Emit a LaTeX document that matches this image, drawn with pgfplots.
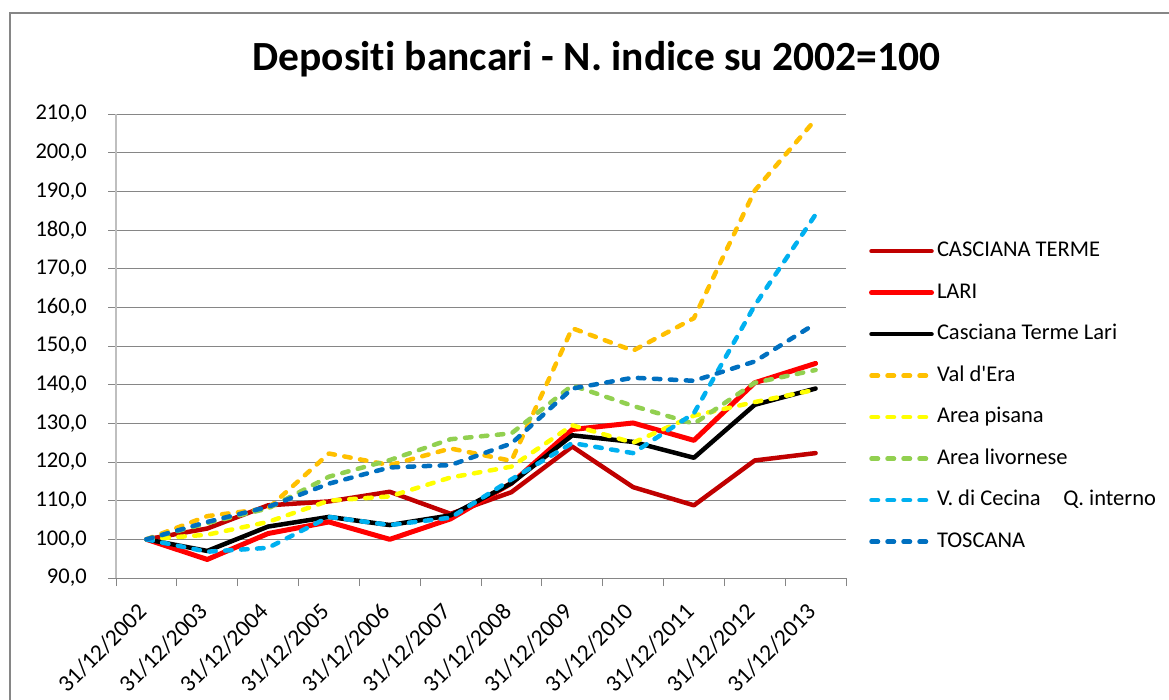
\documentclass[border=0pt]{standalone}
\usepackage{fontspec}
\setmainfont{Carlito}[Ligatures={TeX,NoCommon}]
\usepackage{pgfplots}
\pgfplotsset{compat=1.18}
\definecolor{ctred}{HTML}{C00000}
\definecolor{lared}{HTML}{FF0000}
\definecolor{vorange}{HTML}{FFC000}
\definecolor{pyellow}{HTML}{FFFF00}
\definecolor{lgreen}{HTML}{92D050}
\definecolor{cblue}{HTML}{00B0F0}
\definecolor{tblue}{HTML}{0070C0}
\definecolor{gridgray}{HTML}{868686}
\definecolor{axgray}{HTML}{BFBFBF}
\begin{document}
\begin{tikzpicture}
\path[use as bounding box] (0pt,0pt) rectangle (1169pt,-699pt);
\clip (0pt,0pt) rectangle (1169pt,-699pt);
\fill[white] (0pt,0pt) rectangle (1169pt,-699pt);
\draw[color=gridgray, line width=2pt] (10pt,-720pt) -- (10pt,-13pt) -- (1190pt,-13pt);
\begin{axis}[
  at={(116pt,-578pt)}, anchor=south west,
  scale only axis, width=730pt, height=464pt,
  xmin=-0.5, xmax=11.5, ymin=90, ymax=210,
  axis x line*=bottom, axis y line*=left,
  x axis line style={-, draw=gridgray, line width=1pt},
  y axis line style={-, draw=axgray, line width=2pt},
  xtick={0,...,11},
  xticklabels={31/12/2002,31/12/2003,31/12/2004,31/12/2005,31/12/2006,31/12/2007,31/12/2008,31/12/2009,31/12/2010,31/12/2011,31/12/2012,31/12/2013},
  minor xtick={-0.5,0.5,...,11.5},
  major x tick style={draw=none},
  ytick={90,100,...,210},
  tick align=outside,
  major tick length=8pt, minor tick length=8pt,
  tick style={draw=gridgray, line width=1pt},
  ymajorgrids, grid style={draw=gridgray, line width=1pt},
  /pgf/number format/.cd, fixed, fixed zerofill, precision=1, use comma, assume math mode=true,
  /pgfplots/.cd,
  yticklabel style={font=\fontsize{22.5}{26}\selectfont, anchor=east, inner sep=0pt, xshift=-21pt},
  xticklabel style={font=\fontsize{23.5}{27}\selectfont, inner sep=0pt, yshift=-22pt, xshift=-4pt, rotate=45, anchor=east},
  title={\fontsize{41.5}{48}\selectfont\bfseries Depositi bancari - N. indice su 2002=100},
  title style={at={(0.658,1)}, anchor=base, yshift=38pt, inner sep=0pt},
  legend cell align=left,
  legend style={at={(1.0315,0.7248)}, anchor=north west, draw=none, fill=none,
    inner sep=0pt, outer sep=0pt, row sep=22.5pt,
    font=\fontsize{22.5}{26}\selectfont,
    nodes={inner sep=0pt, text height=15pt, text depth=4pt},
    /tikz/every odd column/.append style={column sep=3pt}},
  legend image code/.code={\draw[#1] (0pt,0pt) -- (60pt,0pt);},
  every axis plot/.append style={line join=round},
  sol/.style={solid, line cap=round, line width=4.5pt},
  dsh/.style={line cap=round, line width=4.5pt, dash pattern=on 6.5pt off 9.5pt},
]
\addplot[sol, color=ctred] coordinates {(0,100) (1,102.8) (2,108.8) (3,109.8) (4,112.3) (5,106.6) (6,112.2) (7,124.0) (8,113.5) (9,108.8) (10,120.4) (11,122.3)};
\addlegendentry{CASCIANA TERME}
\addplot[sol, color=lared, line width=5pt] coordinates {(0,100) (1,94.8) (2,101.5) (3,104.5) (4,100.0) (5,105.3) (6,114.5) (7,128.4) (8,130.1) (9,125.6) (10,140.5) (11,145.5)};
\addlegendentry{LARI}
\addplot[sol, color=black] coordinates {(0,100) (1,97.0) (2,103.3) (3,105.8) (4,103.7) (5,106.2) (6,114.5) (7,126.9) (8,125.2) (9,121.1) (10,134.8) (11,139.0)};
\addlegendentry{Casciana Terme Lari}
\addplot[dsh, color=vorange] coordinates {(0,100) (1,106.0) (2,108.0) (3,122.2) (4,119.2) (5,123.5) (6,120.3) (7,154.6) (8,148.8) (9,157.2) (10,190.2) (11,208.6)};
\addlegendentry{Val d\textquotesingle Era}
\addplot[dsh, color=pyellow] coordinates {(0,100) (1,101.2) (2,104.5) (3,110.0) (4,111.1) (5,116.0) (6,118.8) (7,129.5) (8,125.0) (9,132.0) (10,135.5) (11,138.7)};
\addlegendentry{Area pisana}
\addplot[dsh, color=lgreen] coordinates {(0,100) (1,104.2) (2,108.0) (3,116.2) (4,120.5) (5,125.9) (6,127.4) (7,139.8) (8,134.5) (9,129.9) (10,140.5) (11,143.8)};
\addlegendentry{Area livornese}
\addplot[dsh, color=cblue] coordinates {(0,100) (1,96.8) (2,97.8) (3,105.8) (4,103.7) (5,105.6) (6,115.5) (7,124.9) (8,122.3) (9,132.6) (10,160.5) (11,184.0)};
\addlegendentry{V. di Cecina\quad Q. interno}
\addplot[dsh, color=tblue] coordinates {(0,100) (1,104.5) (2,108.4) (3,114.4) (4,118.6) (5,119.2) (6,124.8) (7,139.0) (8,141.8) (9,141.0) (10,146.0) (11,155.8)};
\addlegendentry{TOSCANA}
\end{axis}
\end{tikzpicture}
\end{document}
